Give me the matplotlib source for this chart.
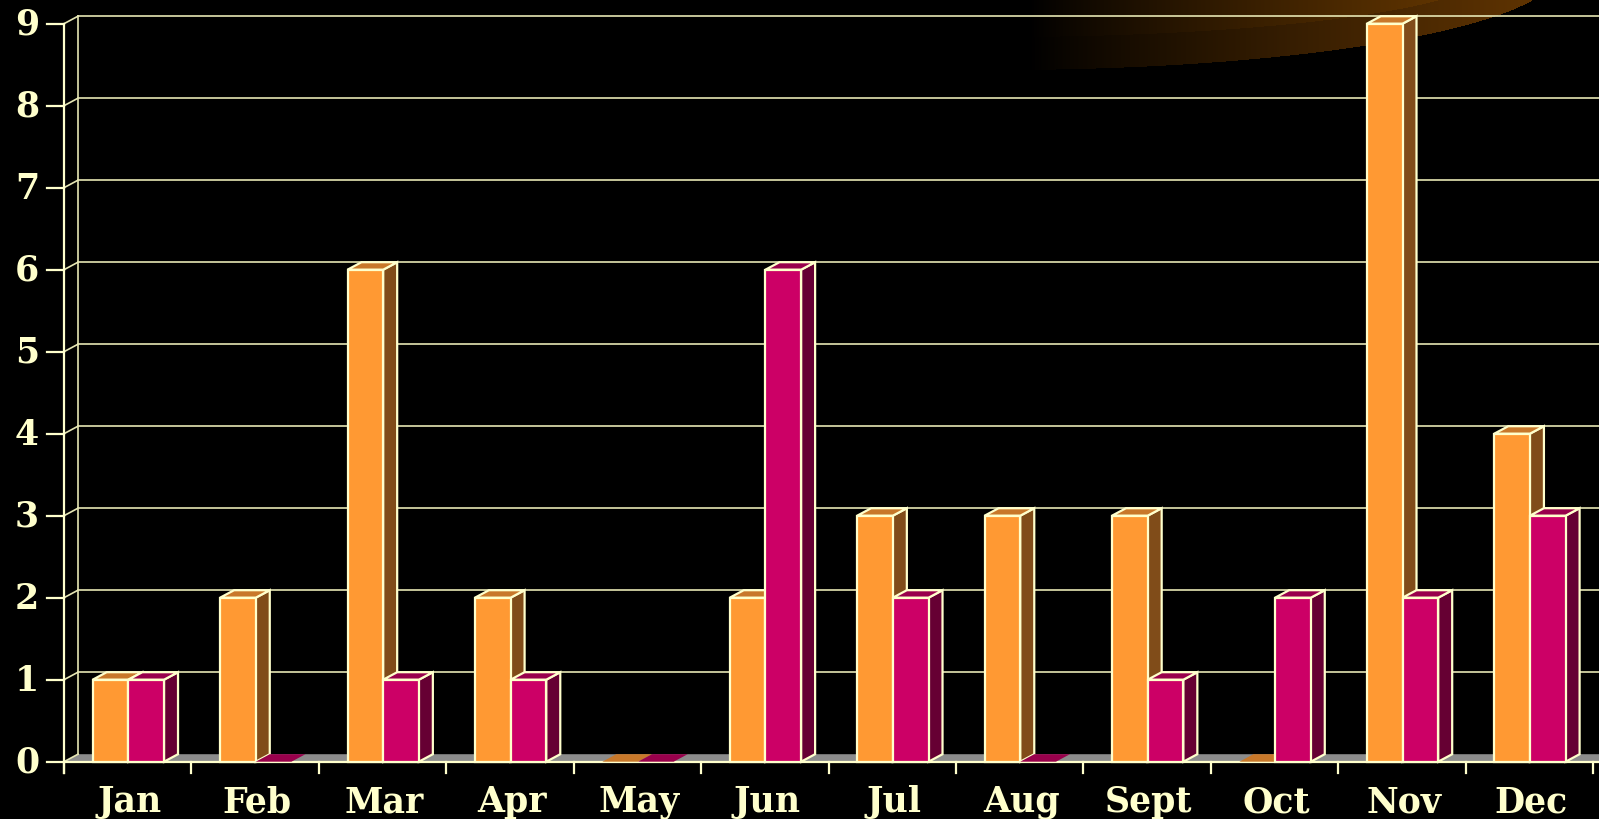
import numpy as np
import matplotlib
matplotlib.use("Agg")
import matplotlib.pyplot as plt
from matplotlib.patches import Polygon

# ---------------- data ----------------
months = ["Jan", "Feb", "Mar", "Apr", "May", "Jun", "Jul", "Aug", "Sept", "Oct", "Nov", "Dec"]
series_orange = [1, 2, 6, 2, 0, 2, 3, 3, 3, 0, 9, 4]
series_magenta = [1, 0, 1, 1, 0, 6, 2, 0, 1, 2, 2, 3]
y_ticks = list(range(0, 10))

# ---------------- style ----------------
BG = "black"
EDGE = "#FFFFCC"
GRID = "#E6E6B4"
TXT = "#FFFFCC"
FLOOR = "#8C8C8C"
ORANGE = dict(front="#FF9933", side="#804C19", top="#C8782A")
MAGENTA = dict(front="#CC0066", side="#660033", top="#99004C")
FONT = dict(family="DejaVu Serif", fontweight="bold", fontsize=25, color=TXT)

W, H, DPI = 15.99, 8.20, 100
fig = plt.figure(figsize=(W, H), dpi=DPI, facecolor=BG)
ax = fig.add_axes([0, 0, 1, 1])
ax.axis("off")

n = len(months)
px_x = (1593 - 64) / n          # pixels per category
px_y = (762.7 - 24.7) / 9       # pixels per unit
XL = -0.5 - 64 / px_x
XR = XL + W * DPI / px_x
YB = -(H * DPI - 762.7) / px_y
YT = YB + H * DPI / px_y
ax.set_xlim(XL, XR)
ax.set_ylim(YB, YT)

DX = 14 / px_x
DY = 7.5 / px_y
LW = 1.6

# ---------------- decorative glow (top right) ----------------
gx0, gy0, gw, gh = 1000, 0, 599, 80
xs = np.arange(gx0, gx0 + gw)[None, :] + 0.5
ys = np.arange(gy0, gy0 + gh)[:, None] + 0.5
cx, cy = 1000.0, -30.0
outer = ((xs - cx) / 559.0) ** 2 + ((ys - cy) / 100.0) ** 2 <= 1
inner = ((xs - cx) / 492.0) ** 2 + ((ys - cy) / 67.0) ** 2 <= 1
t = np.clip((xs - 1030) / (1530 - 1030), 0, 1) ** 0.85
img = np.zeros((gh, gw, 4))
img[..., 3] = 1.0
band_col = np.array([0x5E, 0x33, 0x02]) / 255
inner_col = np.array([0x70, 0x3D, 0x00]) / 255
for c in range(3):
    img[..., c] = np.where(inner, inner_col[c] * t, np.where(outer, band_col[c] * t, 0))
fig.figimage(img, xo=gx0, yo=int(H * DPI) - gy0 - gh, origin="upper", zorder=-1)

# ---------------- walls / floor ----------------
xleft = -0.5
floor = Polygon([(xleft, 0), (XR + 1, 0), (XR + 1 + DX, DY), (xleft + DX, DY)],
                closed=True, facecolor=FLOOR, edgecolor="none", zorder=1)
ax.add_patch(floor)
ax.plot([xleft, XR + 1], [0, 0], color=EDGE, lw=LW, zorder=2)

for v in y_ticks:
    if v > 0:
        ax.plot([xleft + DX, XR + 1], [v + DY, v + DY], color=GRID, lw=1.2, zorder=1)
    ax.plot([xleft, xleft + DX], [v, v + DY], color=GRID, lw=1.2, zorder=1)
    ax.plot([xleft - 17 / px_x, xleft], [v, v], color=EDGE, lw=LW, zorder=2)
    ax.text(xleft - 37 / px_x, v, str(v), ha="center", va="center", **FONT)

ax.plot([xleft + DX, xleft + DX], [DY, 9 + DY], color=GRID, lw=1.2, zorder=1)
ax.plot([xleft, xleft], [-11.5 / px_y, 9], color=EDGE, lw=LW, zorder=2)

for k in range(n + 1):
    xb = xleft + k
    ax.plot([xb, xb], [0, -11.5 / px_y], color=EDGE, lw=LW, zorder=2)

for i, m in enumerate(months):
    ax.text(i + 0.015, YB + 17.5 / px_y, m, ha="center", va="center", **FONT)

# ---------------- bars ----------------
BW = 0.28
offsets = [-0.275, 0.005]


def draw_bar(x0, v, col, z):
    x1 = x0 + BW
    if v == 0:
        ax.add_patch(Polygon([(x0, 0), (x1, 0), (x1 + DX, DY), (x0 + DX, DY)],
                             closed=True, facecolor=col["top"], edgecolor="none", zorder=z))
        return
    kw = dict(closed=True, edgecolor=EDGE, lw=LW, joinstyle="miter", zorder=z)
    ax.add_patch(Polygon([(x1, 0), (x1 + DX, DY), (x1 + DX, v + DY), (x1, v)],
                         facecolor=col["side"], **kw))
    ax.add_patch(Polygon([(x0, v), (x1, v), (x1 + DX, v + DY), (x0 + DX, v + DY)],
                         facecolor=col["top"], **kw))
    ax.add_patch(Polygon([(x0, 0), (x1, 0), (x1, v), (x0, v)],
                         facecolor=col["front"], **kw))


z = 3
for i in range(n):
    draw_bar(i + offsets[0], series_orange[i], ORANGE, z)
    z += 1
    draw_bar(i + offsets[1], series_magenta[i], MAGENTA, z)
    z += 1

fig.savefig("out.png", dpi=DPI, facecolor=BG)
